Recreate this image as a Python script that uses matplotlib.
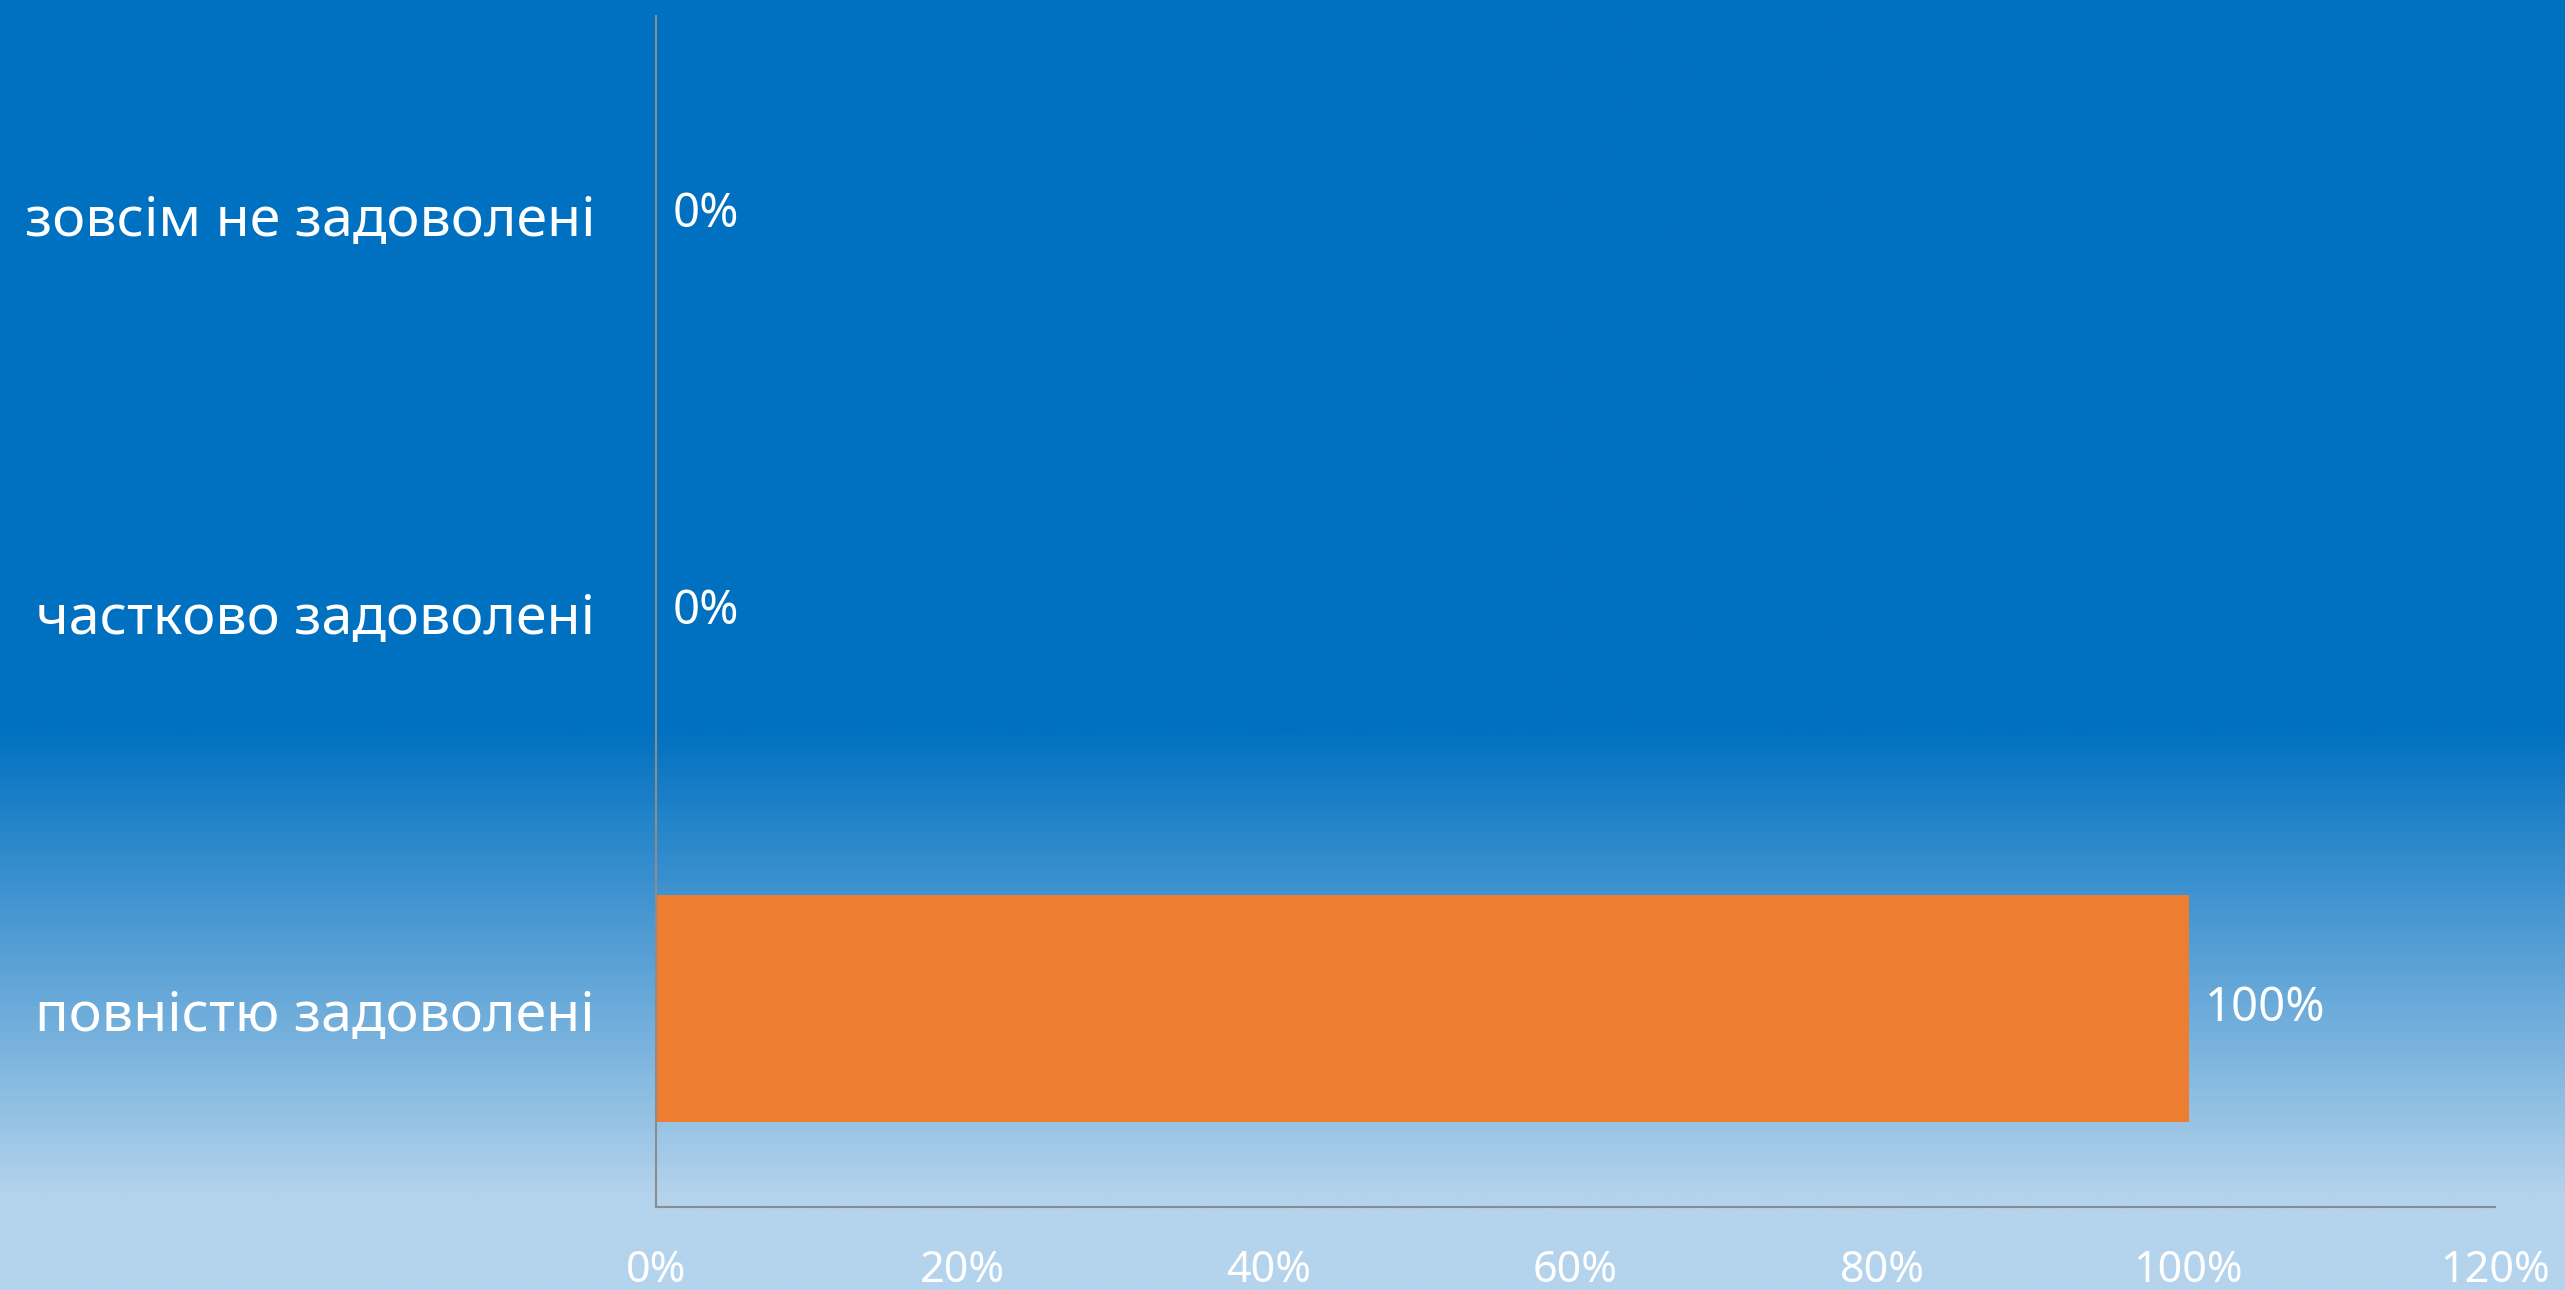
import matplotlib.pyplot as plt
import numpy as np
from matplotlib.colors import LinearSegmentedColormap
from matplotlib.ticker import FuncFormatter

categories = ["зовсім не задоволені", "частково задоволені", "повністю задоволені"]
values = [0.0, 0.0, 1.0]
value_labels = ["0%", "0%", "100%"]
x_ticks = [0, 0.2, 0.4, 0.6, 0.8, 1.0, 1.2]

plt.rcParams["font.family"] = ["Noto Sans", "DejaVu Sans"]

fig = plt.figure(figsize=(25.65, 12.9), dpi=100)

# gradient background (solid blue on top, fading to light blue at the bottom)
bg = fig.add_axes([0, 0, 1, 1], zorder=0)
cmap = LinearSegmentedColormap.from_list(
    "bg", [(0.0, "#0070C0"), (0.565, "#0070C0"), (0.93, "#B4D3EC"), (1.0, "#B4D3EC")])
grad = np.linspace(0, 1, 600).reshape(-1, 1)
bg.imshow(grad, aspect="auto", cmap=cmap, extent=[0, 1, 1, 0])
bg.set_axis_off()

ax = fig.add_axes([0.2558, 0.0643, 0.9727 - 0.2558, 0.9876 - 0.0643], zorder=1)
ax.set_facecolor("none")

y = np.arange(len(categories))
ax.barh(y, values, height=0.57, color="#ED7D31")

for yi, v, lab in zip(y, values, value_labels):
    ax.annotate(lab, (v, yi), xytext=(12, 0), textcoords="offset points",
                va="center", ha="left", color="white", fontsize=34)

ax.set_xlim(0, 1.2)
ax.set_ylim(len(categories) - 0.5, -0.5)
ax.set_yticks(y)
ax.set_yticklabels(categories)
ax.set_xticks(x_ticks)
ax.xaxis.set_major_formatter(FuncFormatter(lambda v, p: f"{v * 100:.0f}%"))

ax.tick_params(axis="y", length=0, pad=44, labelsize=40, labelcolor="white")
ax.tick_params(axis="x", length=0, pad=30, labelsize=31, labelcolor="white")

for s in ["top", "right"]:
    ax.spines[s].set_visible(False)
for s in ["left", "bottom"]:
    ax.spines[s].set_color("#8C8C8C")
    ax.spines[s].set_linewidth(1.5)

fig.savefig("out.png", dpi=100)
